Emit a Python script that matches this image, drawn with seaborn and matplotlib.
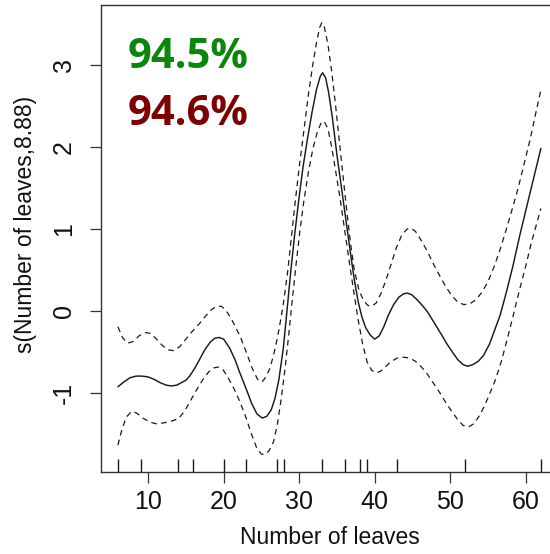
import numpy as np
import pandas as pd
import matplotlib
matplotlib.use("Agg")
import matplotlib.pyplot as plt
import seaborn as sns

# ---- data ----
fit_x = [6.0, 6.8, 7.6, 8.4, 9.2, 10.0, 10.8, 11.6, 12.4, 13.1, 13.8, 14.4, 15.0, 15.5,
         16.2, 16.8, 17.5, 18.2, 18.8, 19.4, 20.0, 20.8, 21.5, 22.1, 23.0, 23.7, 24.4,
         25.1, 25.7, 26.3, 26.8, 27.3, 27.9, 28.4, 28.9, 29.4, 29.9, 30.5, 31.1, 31.7,
         32.3, 32.8, 33.1, 33.5, 33.9, 34.4, 35.0, 35.6, 36.2, 36.8, 37.3, 37.8, 38.3,
         38.8, 39.4, 40.0, 40.6, 41.2, 41.8, 42.5, 43.2, 43.8, 44.3, 44.9, 45.6, 46.3,
         47.0, 48.0, 49.0, 49.5, 50.3, 51.0, 51.7, 52.3, 53.0, 53.7, 54.4, 55.2, 56.0,
         56.6, 57.4, 58.3, 59.2, 60.2, 61.1, 62.0]
fit_y = [-0.92, -0.86, -0.81, -0.79, -0.79, -0.80, -0.83, -0.87, -0.90, -0.91, -0.90,
         -0.87, -0.84, -0.79, -0.69, -0.59, -0.47, -0.38, -0.33, -0.32, -0.34, -0.45,
         -0.59, -0.74, -0.95, -1.12, -1.25, -1.30, -1.28, -1.20, -1.06, -0.84, -0.45,
         0.02, 0.50, 0.93, 1.32, 1.75, 2.10, 2.42, 2.70, 2.86, 2.90, 2.84, 2.66, 2.35,
         1.90, 1.50, 1.10, 0.70, 0.38, 0.12, -0.07, -0.20, -0.29, -0.34, -0.30, -0.19,
         -0.05, 0.08, 0.17, 0.21, 0.22, 0.20, 0.14, 0.07, -0.01, -0.16, -0.31, -0.39,
         -0.50, -0.59, -0.65, -0.67, -0.65, -0.61, -0.54, -0.40, -0.20, -0.05, 0.22,
         0.55, 0.92, 1.30, 1.64, 1.98]

upper_x = [6.0, 6.6, 7.3, 8.0, 8.8, 9.6, 10.3, 11.0, 11.8, 12.6, 13.4, 14.2, 15.0, 15.9,
           16.8, 17.6, 18.4, 19.1, 19.7, 20.3, 21.0, 21.6, 22.2, 23.0, 23.8, 24.5, 25.1,
           25.6, 26.1, 26.6, 27.1, 27.6, 28.0, 28.5, 29.0, 29.5, 30.0, 30.6, 31.2, 31.8,
           32.3, 32.7, 33.0, 33.3, 33.8, 34.3, 34.8, 35.3, 35.8, 36.3, 36.8, 37.3, 37.9,
           38.5, 39.1, 39.6, 40.2, 40.8, 41.5, 42.2, 42.9, 43.6, 44.3, 44.8, 45.4, 46.1,
           46.9, 47.8, 48.6, 49.4, 50.2, 51.0, 51.8, 52.6, 53.4, 54.2, 55.0, 55.8, 56.6,
           57.4, 58.2, 59.0, 59.8, 60.6, 61.3, 62.0]
upper_y = [-0.19, -0.32, -0.39, -0.37, -0.30, -0.26, -0.27, -0.33, -0.41, -0.47, -0.48,
           -0.43, -0.34, -0.24, -0.15, -0.06, 0.02, 0.06, 0.06, 0.01, -0.09, -0.20,
           -0.31, -0.50, -0.70, -0.83, -0.86, -0.80, -0.70, -0.54, -0.33, -0.08, 0.15,
           0.50, 0.93, 1.35, 1.75, 2.18, 2.62, 3.00, 3.27, 3.45, 3.51, 3.47, 3.25, 2.92,
           2.52, 2.08, 1.65, 1.22, 0.82, 0.50, 0.26, 0.13, 0.07, 0.06, 0.10, 0.21, 0.38,
           0.58, 0.78, 0.93, 1.00, 1.01, 0.97, 0.87, 0.74, 0.57, 0.43, 0.30, 0.19, 0.11,
           0.08, 0.09, 0.14, 0.23, 0.36, 0.54, 0.75, 0.99, 1.24, 1.50, 1.80, 2.10, 2.40,
           2.69]

lower_x = [6.0, 6.5, 7.1, 7.8, 8.5, 9.3, 10.2, 11.1, 12.0, 13.0, 14.0, 14.8, 15.6, 16.4,
           17.2, 18.0, 18.7, 19.3, 19.9, 20.6, 21.4, 22.1, 22.9, 23.7, 24.4, 25.0, 25.5,
           26.0, 26.6, 27.1, 27.6, 28.1, 28.6, 29.1, 29.6, 30.1, 30.6, 31.2, 31.8, 32.4,
           32.9, 33.3, 33.8, 34.3, 34.8, 35.4, 36.0, 36.6, 37.2, 37.8, 38.4, 39.0, 39.6,
           40.2, 40.8, 41.5, 42.2, 43.0, 43.8, 44.6, 45.4, 46.2, 47.0, 47.8, 48.6, 49.4,
           50.2, 51.0, 51.7, 52.4, 53.1, 53.8, 54.5, 55.2, 56.0, 56.8, 57.6, 58.4, 59.2,
           60.0, 60.7, 61.4, 62.0]
lower_y = [-1.63, -1.45, -1.29, -1.22, -1.24, -1.30, -1.35, -1.37, -1.36, -1.34, -1.31,
           -1.22, -1.09, -0.96, -0.84, -0.74, -0.69, -0.68, -0.71, -0.81, -0.95, -1.09,
           -1.28, -1.50, -1.67, -1.74, -1.74, -1.70, -1.59, -1.38, -1.08, -0.72, -0.30,
           0.15, 0.58, 0.98, 1.33, 1.68, 1.97, 2.18, 2.29, 2.31, 2.22, 2.00, 1.72, 1.38,
           1.00, 0.62, 0.25, -0.10, -0.40, -0.62, -0.72, -0.75, -0.73, -0.67, -0.61,
           -0.57, -0.56, -0.57, -0.61, -0.68, -0.77, -0.88, -0.99, -1.11, -1.22, -1.32,
           -1.39, -1.41, -1.37, -1.28, -1.16, -1.01, -0.83, -0.60, -0.32, -0.03, 0.27,
           0.55, 0.82, 1.05, 1.25]

rug_x = [6, 9, 14, 16, 20, 23, 27, 28, 33, 36, 38, 39, 43, 52, 62]

x_ticks = [10, 20, 30, 40, 50, 60]
y_ticks = [-1, 0, 1, 2, 3]
x_label = "Number of leaves"
y_label = "s(Number of leaves,8.88)"
annot_texts = ["94.5%", "94.6%"]
annot_colors = ["#0a860a", "#7f0000"]

# ---- figure ----
sns.set_theme(style="white")
plt.rcParams["font.family"] = ["Liberation Sans", "DejaVu Sans"]

fig = plt.figure(figsize=(5.50, 5.54), dpi=100)
ax = fig.add_axes([101 / 550, 1 - 471.7 / 554, (557.8 - 101) / 550, (471.7 - 5) / 554])

fit_df = pd.DataFrame({"x": fit_x, "y": fit_y})
up_df = pd.DataFrame({"x": upper_x, "y": upper_y})
lo_df = pd.DataFrame({"x": lower_x, "y": lower_y})

sns.lineplot(data=fit_df, x="x", y="y", ax=ax, color="#1a1a1a", linewidth=1.05,
             sort=False, estimator=None)
for d in (up_df, lo_df):
    sns.lineplot(data=d, x="x", y="y", ax=ax, color="#1a1a1a", linewidth=0.9,
                 sort=False, estimator=None, linestyle=(0, (4.5, 3.5)))

sns.rugplot(x=rug_x, ax=ax, height=13 / 466.7, color="#1a1a1a", linewidth=1.0,
            expand_margins=False)

ax.set_xlim(3.76, 64.24)
ax.set_ylim(-1.953, 3.725)
ax.set_xticks(x_ticks)
ax.set_yticks(y_ticks)
ax.set_xticklabels([str(t) for t in x_ticks])
ax.set_yticklabels([str(t) for t in y_ticks], rotation=90, va="center")

ax.tick_params(axis="both", which="both", direction="out", length=8, width=0.9,
               color="#333333", labelsize=18, labelcolor="#111111", left=True,
               bottom=True)
ax.tick_params(axis="x", pad=5)
ax.tick_params(axis="y", pad=10)

for side in ("left", "top", "bottom", "right"):
    ax.spines[side].set_visible(True)
    ax.spines[side].set_color("#333333")
    ax.spines[side].set_linewidth(1.0)

ax.set_xlabel(x_label, fontsize=16.5, color="#111111", labelpad=9)
ax.set_ylabel(y_label, fontsize=16.5, color="#111111")
ax.yaxis.set_label_coords(-0.14, 0.53)
ax.grid(False)
ax.set_facecolor("white")

fig.text(128 / 550, 1 - 68 / 554, annot_texts[0], color=annot_colors[0],
         fontsize=30, fontweight="bold", family=["Open Sans", "DejaVu Sans"],
         ha="left", va="baseline")
fig.text(128 / 550, 1 - 125 / 554, annot_texts[1], color=annot_colors[1],
         fontsize=30, fontweight="bold", family=["Open Sans", "DejaVu Sans"],
         ha="left", va="baseline")

fig.savefig("out.png", dpi=100, facecolor="white")
